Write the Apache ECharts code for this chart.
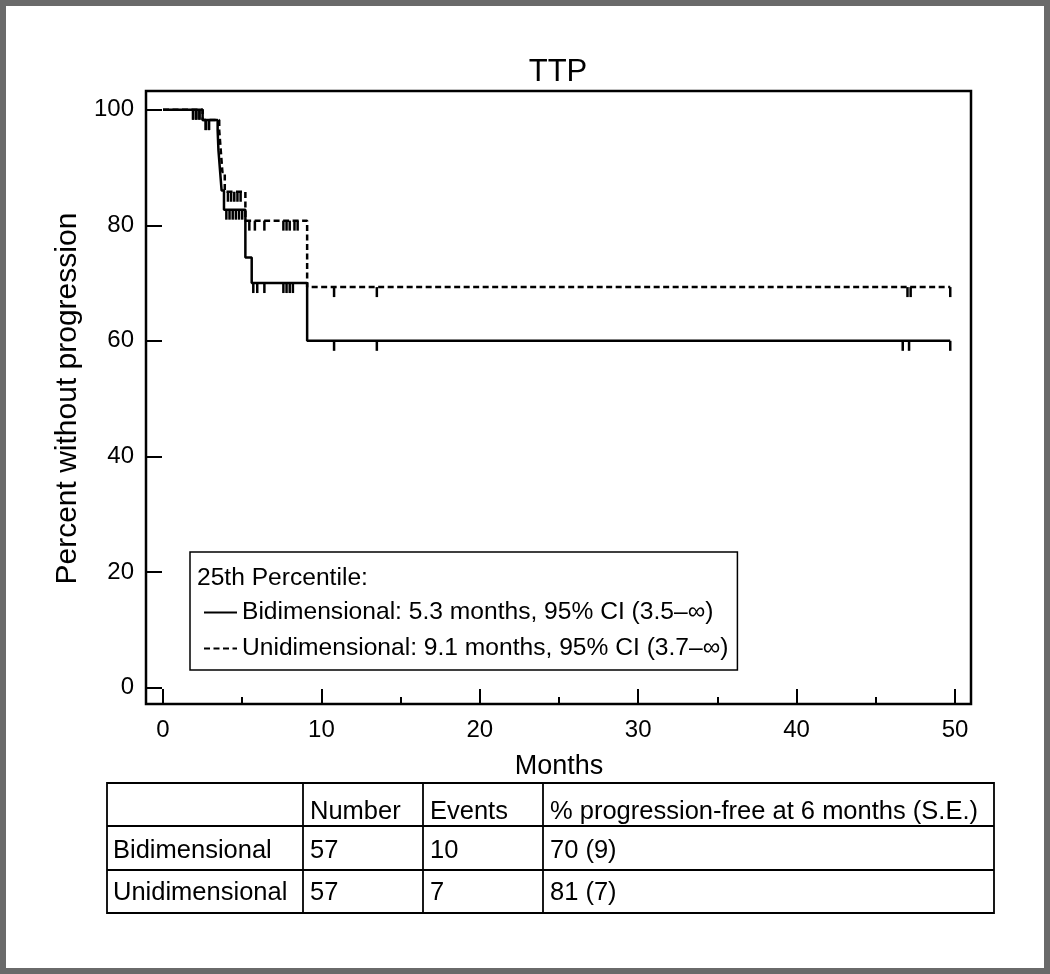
<!DOCTYPE html>
<html>
<head>
<meta charset="utf-8">
<script src="https://cdn.jsdelivr.net/npm/echarts@6/dist/echarts.min.js"></script>
<style>
html,body{margin:0;padding:0;background:#fff;}
#chart{width:1050px;height:974px;}
</style>
</head>
<body>
<div id="chart"></div>
<script>
// ---- data ----
const chartTitle = 'TTP';
const xTicks = [0, 10, 20, 30, 40, 50];
const yTicks = [0, 20, 40, 60, 80, 100];
const seriesNames = [
  'Bidimensional: 5.3 months, 95% CI (3.5\u2013\u221e)',
  'Unidimensional: 9.1 months, 95% CI (3.7\u2013\u221e)'
];
const legendTitle = '25th Percentile:';

// Kaplan-Meier steps (time in months, percent without progression)
const bidiTimes = [0, 2.5, 3.45, 3.5, 3.6, 3.7, 3.85, 5.2, 5.6, 9.1, 49.7];
const bidiSurv  = [100, 98.2, 96.4, 93.0, 89.5, 86.0, 82.7, 74.4, 70.0, 60.0, 60.0];
const uniTimes  = [0, 2.5, 3.55, 3.65, 3.75, 3.9, 5.2, 9.1, 49.7];
const uniSurv   = [100, 98.2, 96.4, 92.8, 89.2, 85.8, 80.8, 69.3, 69.3];

// censoring times
const bidiCensor = [1.9, 2.1, 2.3, 2.7, 2.9, 4.0, 4.2, 4.4, 4.6, 4.8, 5.0, 5.7, 5.95, 6.4, 7.6, 7.8, 8.0, 8.2, 10.8, 13.5, 46.7, 47.1, 49.7];
const uniCensor  = [1.9, 2.1, 2.3, 2.7, 2.9, 4.1, 4.3, 4.5, 4.7, 4.9, 5.45, 5.8, 6.4, 7.6, 7.8, 8.0, 8.3, 8.5, 10.8, 13.5, 47.0, 47.2, 49.7];

// table
const tableHeader = ['', 'Number', 'Events', '% progression-free at 6 months (S.E.)'];
const tableRows = [
  ['Bidimensional', '57', '10', '70 (9)'],
  ['Unidimensional', '57', '7', '81 (7)']
];

// ---- helpers ----
function pairs(t, s) { return t.map((v, i) => [v, s[i]]); }
function stepValue(t, s, x) { let v = s[0]; for (let i = 0; i < t.length; i++) { if (t[i] <= x) v = s[i]; } return v; }
function censorPts(ct, t, s) { return ct.map(x => [x, stepValue(t, s, x)]); }

const FONT = '"Liberation Sans", Arial, Helvetica, sans-serif';

function censorRender(params, api) {
  const p = api.coord([api.value(0), api.value(1)]);
  return { type: 'line', shape: { x1: p[0], y1: p[1], x2: p[0], y2: p[1] + 10 },
    style: { stroke: '#000', lineWidth: 2.5 } };
}

// table graphics
const colX = [107, 303, 423, 543, 994];
const rowY = [783, 826, 870, 913];
const tableGraphics = [];
tableGraphics.push({ type: 'rect', shape: { x: colX[0], y: rowY[0], width: colX[4] - colX[0], height: rowY[3] - rowY[0] },
  style: { fill: 'none', stroke: '#000', lineWidth: 1.8 } });
for (let i = 1; i < 4; i++) tableGraphics.push({ type: 'line', shape: { x1: colX[i], y1: rowY[0], x2: colX[i], y2: rowY[3] }, style: { stroke: '#000', lineWidth: 1.8 } });
for (let j = 1; j < 3; j++) tableGraphics.push({ type: 'line', shape: { x1: colX[0], y1: rowY[j], x2: colX[4], y2: rowY[j] }, style: { stroke: '#000', lineWidth: 1.8 } });
const allRows = [tableHeader].concat(tableRows);
const rowTextY = [812, 851, 893];
allRows.forEach((row, r) => {
  row.forEach((txt, c) => {
    if (!txt) return;
    tableGraphics.push({ type: 'text', style: { text: txt, x: colX[c] + (c === 0 ? 6 : 7), y: rowTextY[r],
      font: '25.5px ' + FONT, fill: '#000', textVerticalAlign: 'middle', verticalAlign: 'middle' } });
  });
});

const chart = echarts.init(document.getElementById('chart'), null, { renderer: 'canvas' });
chart.setOption({
  animation: false,
  backgroundColor: '#fff',
  title: { text: chartTitle, left: 553, top: 52, textAlign: 'center',
    textStyle: { fontFamily: FONT, fontSize: 31, fontWeight: 'normal', color: '#000' } },
  grid: [
    { left: 163, top: 109.7, width: 792, height: 577.8, show: false },
    { left: 146, top: 91, width: 825, height: 613, show: true, borderColor: '#000', borderWidth: 2.5, backgroundColor: 'transparent' }
  ],
  legend: {
    data: seriesNames, orient: 'vertical', left: 190, top: 552,
    padding: [48, 9, 9, 13], itemWidth: 33, itemHeight: 14, itemGap: 11,
    borderColor: '#000', borderWidth: 1.5, selectedMode: false,
    itemStyle: { color: 'rgba(0,0,0,0)', borderColor: 'rgba(0,0,0,0)', borderWidth: 0, opacity: 0 },
    textStyle: { fontFamily: FONT, fontSize: 24.6, color: '#000' }
  },
  xAxis: [
    { gridIndex: 0, type: 'value', min: xTicks[0], max: xTicks[xTicks.length - 1], interval: 10, offset: 16.5,
      axisLine: { show: false, onZero: false },
      axisTick: { inside: true, length: 15, lineStyle: { color: '#000', width: 2 } },
      minorTick: { show: true, splitNumber: 2, length: 7, lineStyle: { color: '#000', width: 2 } },
      splitLine: { show: false },
      axisLabel: { margin: 14, fontFamily: FONT, fontSize: 24, color: '#000' },
      name: 'Months', nameLocation: 'middle', nameGap: 49,
      nameTextStyle: { fontFamily: FONT, fontSize: 27, color: '#000' } },
    { gridIndex: 1, type: 'value', min: 0, max: 1, show: false }
  ],
  yAxis: [
    { gridIndex: 0, type: 'value', min: yTicks[0], max: yTicks[yTicks.length - 1], interval: 20, offset: 17,
      axisLine: { show: false, onZero: false },
      axisTick: { inside: true, length: 16, lineStyle: { color: '#000', width: 2 } },
      splitLine: { show: false },
      axisLabel: { margin: 12, fontFamily: FONT, fontSize: 24, color: '#000' },
      name: 'Percent without progression', nameLocation: 'middle', nameGap: 60,
      nameTextStyle: { fontFamily: FONT, fontSize: 30, color: '#000' } },
    { gridIndex: 1, type: 'value', min: 0, max: 1, show: false }
  ],
  series: [
    { type: 'line', name: seriesNames[0], data: pairs(bidiTimes, bidiSurv), step: 'end',
      symbol: 'none', showSymbol: false, clip: false,
      lineStyle: { color: '#000', width: 2.5, type: 'solid' }, itemStyle: { color: '#000' } },
    { type: 'line', name: seriesNames[1], data: pairs(uniTimes, uniSurv), step: 'end',
      symbol: 'none', showSymbol: false, clip: false,
      lineStyle: { color: '#000', width: 2.5, type: [6, 3.5] }, itemStyle: { color: '#000' } },
    { type: 'custom', name: 'bidiCensor', data: censorPts(bidiCensor, bidiTimes, bidiSurv),
      renderItem: censorRender, encode: { x: 0, y: 1 }, clip: false, silent: true },
    { type: 'custom', name: 'uniCensor', data: censorPts(uniCensor, uniTimes, uniSurv),
      renderItem: censorRender, encode: { x: 0, y: 1 }, clip: false, silent: true }
  ],
  graphic: [
    { type: 'text', style: { text: legendTitle, x: 197, y: 578, font: '24.6px ' + FONT, fill: '#000',
      textVerticalAlign: 'middle', verticalAlign: 'middle' }, z: 100 },
    { type: 'rect', shape: { x: 0, y: 0, width: 1050, height: 974 }, style: { fill: 'none', stroke: '#6a6a6a', lineWidth: 12 }, z: 100 }
  ].concat(tableGraphics)
});
</script>
</body>
</html>
